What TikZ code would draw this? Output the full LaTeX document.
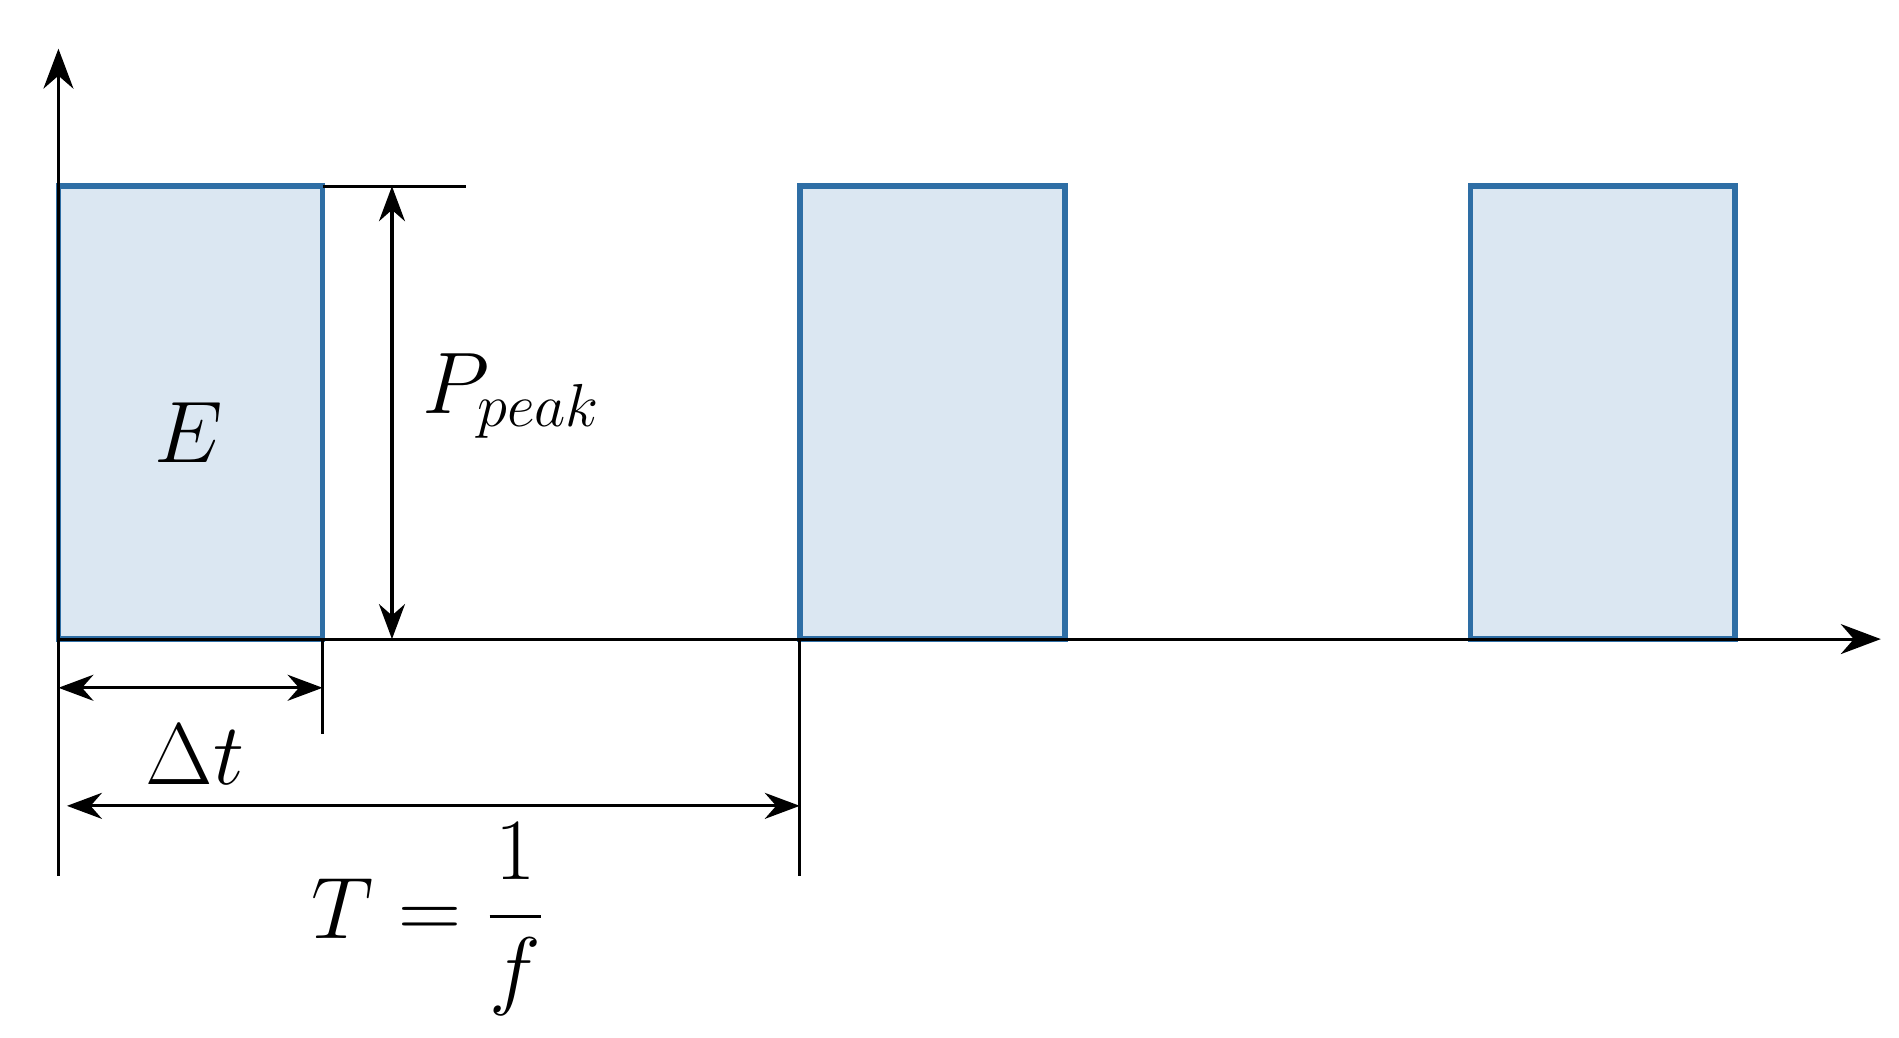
\documentclass[tikz,border=0pt]{standalone}
\usepackage{amsmath}
\usepackage{xcolor}
\usetikzlibrary{arrows.meta}
\definecolor{pulseedge}{RGB}{46,110,165}
\definecolor{pulsefill}{RGB}{219,231,242}
\tikzset{
  pulse/.style={draw=pulseedge, fill=pulsefill, line width=1.6pt},
  axis/.style={line width=0.9pt, -{Stealth[length=4mm,width=3mm]}},
  dim/.style={line width=0.9pt, {Stealth[length=3.5mm,width=2.6mm]}-{Stealth[length=3.5mm,width=2.6mm]}},
  guide/.style={line width=0.9pt},
  lbl/.style={font=\fontsize{26}{30}\selectfont}
}
\begin{document}
\begin{tikzpicture}[x=0.01217cm, y=-0.01217cm]
  \useasboundingbox (0,0) rectangle (1560,852);

  % Pulses
  \draw[pulse] (48,525) rectangle (265,153);
  \draw[pulse] (657,525) rectangle (875,153);
  \draw[pulse] (1208,525) rectangle (1425,153);

  % Axes
  \coordinate (origin) at (48,525);
  \coordinate (ytop) at (48,40);
  \coordinate (xend) at (1545,525);
  \draw[axis] (origin) -- (ytop);
  \draw[axis] (origin) -- (xend);

  % Peak dimension
  \coordinate (pk1) at (265,153);
  \coordinate (pk2) at (383,153);
  \draw[guide] (pk1) -- (pk2);
  \coordinate (pa) at (322,153);
  \coordinate (pb) at (322,525);
  \draw[dim] (pa) -- (pb);
  \node[lbl] (ppeak) at (420,325) {$P_{peak}$};
  \node[lbl] (energy) at (155,355) {$E$};

  % Width and period
  \coordinate (w0) at (48,720);
  \coordinate (w1) at (265,525);
  \coordinate (w1b) at (265,603);
  \coordinate (t1) at (657,525);
  \coordinate (t1b) at (657,720);
  \draw[guide] (origin) -- (w0);
  \draw[guide] (w1) -- (w1b);
  \draw[guide] (t1) -- (t1b);
  \coordinate (da) at (48,565);
  \coordinate (db) at (265,565);
  \draw[dim] (da) -- (db);
  \coordinate (ta) at (55,662);
  \coordinate (tb) at (657,662);
  \draw[dim] (ta) -- (tb);
  \node[lbl] (dt) at (160,620) {$\Delta t$};
  \node[lbl] (period) at (352,755) {$T=\dfrac{1}{f}$};
\end{tikzpicture}
\end{document}
